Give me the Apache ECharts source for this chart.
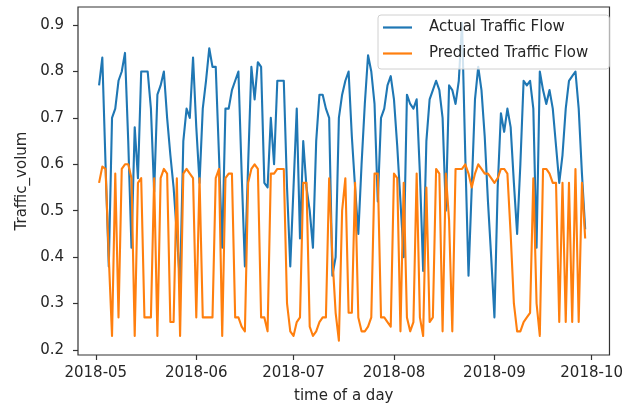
<!DOCTYPE html>
<html>
<head>
<meta charset="utf-8">
<script src="https://cdn.jsdelivr.net/npm/echarts@6/dist/echarts.min.js"></script>
<style>
  html, body { margin: 0; padding: 0; background: #ffffff; }
  #chart { width: 626px; height: 409px; }
</style>
</head>
<body>
<div id="chart"></div>
<script>
// Daily traffic volume (normalised), first day of the series
const firstDay = [2018, 4, 2]; // 2018-05-02 (month is zero-based)

const actualFlow = [
  0.77, 0.83, 0.60, 0.38, 0.70, 0.72, 0.78, 0.80, 0.84, 0.65,
  0.42, 0.68, 0.57, 0.80, 0.80, 0.80, 0.72, 0.54, 0.75, 0.77,
  0.80, 0.70, 0.62, 0.55, 0.45, 0.34, 0.65, 0.72, 0.70, 0.83,
  0.68, 0.56, 0.72, 0.78, 0.85, 0.81, 0.81, 0.62, 0.42, 0.72,
  0.72, 0.76, 0.78, 0.80, 0.58, 0.38, 0.60, 0.81, 0.74, 0.82,
  0.81, 0.56, 0.55, 0.70, 0.60, 0.78, 0.78, 0.78, 0.55, 0.38,
  0.55, 0.72, 0.44, 0.65, 0.55, 0.50, 0.42, 0.65, 0.75, 0.75,
  0.72, 0.70, 0.36, 0.40, 0.70, 0.75, 0.78, 0.80, 0.66, 0.55,
  0.45, 0.60, 0.73, 0.835, 0.80, 0.73, 0.52, 0.70, 0.72, 0.77,
  0.79, 0.74, 0.64, 0.52, 0.40, 0.75, 0.73, 0.72, 0.74, 0.58,
  0.37, 0.65, 0.74, 0.76, 0.78, 0.76, 0.70, 0.50, 0.77, 0.76,
  0.73, 0.78, 0.905, 0.62, 0.36, 0.55, 0.74, 0.81, 0.76, 0.66,
  0.52, 0.40, 0.27, 0.55, 0.71, 0.67, 0.72, 0.68, 0.56, 0.45,
  0.60, 0.78, 0.77, 0.78, 0.72, 0.42, 0.80, 0.76, 0.73, 0.76,
  0.72, 0.64, 0.56, 0.62, 0.72, 0.78, 0.79, 0.80, 0.72, 0.58, 0.46
];

const predictedFlow = [
  0.56, 0.595, 0.59, 0.40, 0.23, 0.58, 0.27, 0.59, 0.60, 0.60,
  0.57, 0.23, 0.56, 0.57, 0.27, 0.27, 0.27, 0.57, 0.23, 0.57,
  0.59, 0.58, 0.26, 0.26, 0.57, 0.23, 0.58, 0.59, 0.58, 0.57,
  0.27, 0.57, 0.27, 0.27, 0.27, 0.27, 0.57, 0.59, 0.23, 0.57,
  0.58, 0.58, 0.27, 0.27, 0.25, 0.24, 0.56, 0.59, 0.60, 0.59,
  0.27, 0.27, 0.24, 0.58, 0.58, 0.59, 0.59, 0.59, 0.30, 0.24,
  0.23, 0.26, 0.27, 0.56, 0.56, 0.25, 0.23, 0.24, 0.26, 0.27,
  0.27, 0.57, 0.40, 0.28, 0.22, 0.50, 0.57, 0.28, 0.28, 0.56,
  0.27, 0.24, 0.24, 0.25, 0.27, 0.58, 0.58, 0.27, 0.27, 0.26,
  0.25, 0.58, 0.57, 0.24, 0.56, 0.27, 0.24, 0.26, 0.58, 0.27,
  0.23, 0.55, 0.26, 0.27, 0.59, 0.58, 0.24, 0.58, 0.48, 0.24,
  0.59, 0.59, 0.59, 0.60, 0.58, 0.55, 0.58, 0.60, 0.59, 0.58,
  0.58, 0.57, 0.56, 0.57, 0.59, 0.59, 0.58, 0.45, 0.30, 0.24,
  0.24, 0.26, 0.27, 0.28, 0.57, 0.30, 0.23, 0.59, 0.59, 0.58,
  0.56, 0.56, 0.26, 0.56, 0.26, 0.56, 0.26, 0.59, 0.26, 0.56, 0.44
];

// Axis ticks
const monthTicks = [[2018, 4, 1], [2018, 5, 1], [2018, 6, 1], [2018, 7, 1], [2018, 8, 1], [2018, 9, 1]];
const yTicks = [0.2, 0.3, 0.4, 0.5, 0.6, 0.7, 0.8, 0.9];

// Axis extents (margin either side of the data)
const xStart = new Date(2018, 3, 25, 12).getTime();
const xEnd = new Date(2018, 9, 6, 12).getTime();
const yMin = 0.189;
const yMax = 0.939;

function dayTime(i) {
  return new Date(firstDay[0], firstDay[1], firstDay[2] + i).getTime();
}
const actualSeries = actualFlow.map((v, i) => [dayTime(i), v]);
const predictedSeries = predictedFlow.map((v, i) => [dayTime(i), v]);
const monthTickTimes = monthTicks.map(m => new Date(m[0], m[1], m[2]).getTime());

const FONT = 'DejaVu Sans';
const TEXT = '#262626';

const chart = echarts.init(document.getElementById('chart'), null, { renderer: 'canvas' });
chart.setOption({
  animation: false,
  backgroundColor: '#ffffff',
  textStyle: { fontFamily: FONT },
  grid: {
    left: 78, right: 11, top: 7, bottom: 53,
    show: true, borderColor: '#333333', borderWidth: 1.2, backgroundColor: 'transparent'
  },
  legend: {
    orient: 'vertical',
    left: 378, top: 15,
    padding: [5, 21, 8, 5],
    itemGap: 11,
    itemWidth: 29, itemHeight: 2.2,
    icon: 'rect',
    backgroundColor: 'rgba(255,255,255,0.8)',
    borderColor: '#d0d0d0', borderWidth: 1, borderRadius: 3,
    textStyle: { fontFamily: FONT, fontSize: 15, color: TEXT, padding: [0, 0, 0, 12] },
    data: ['Actual Traffic Flow', 'Predicted Traffic Flow']
  },
  xAxis: {
    type: 'value',
    min: xStart, max: xEnd,
    name: 'time of a day',
    nameLocation: 'middle',
    nameGap: 34,
    nameTextStyle: { fontFamily: FONT, fontSize: 15, color: TEXT },
    axisLine: { show: false },
    splitLine: { show: false },
    axisTick: { show: true, length: 5, lineStyle: { color: '#333333', width: 1.2 }, customValues: monthTickTimes },
    axisLabel: {
      customValues: monthTickTimes,
      fontFamily: FONT, fontSize: 15, color: TEXT, margin: 11,
      formatter: function (val) {
        const d = new Date(val);
        const mm = String(d.getMonth() + 1).padStart(2, '0');
        return d.getFullYear() + '-' + mm;
      }
    }
  },
  yAxis: {
    type: 'value',
    min: yMin, max: yMax,
    name: 'Traffic_volum',
    nameLocation: 'middle',
    nameGap: 48,
    nameTextStyle: { fontFamily: FONT, fontSize: 15, color: TEXT },
    axisLine: { show: false },
    splitLine: { show: false },
    axisTick: { show: true, length: 5, lineStyle: { color: '#333333', width: 1.2 }, customValues: yTicks },
    axisLabel: {
      customValues: yTicks,
      fontFamily: FONT, fontSize: 15, color: TEXT, margin: 14,
      formatter: function (v) { return v.toFixed(1); }
    }
  },
  series: [
    {
      name: 'Actual Traffic Flow',
      type: 'line',
      data: actualSeries,
      showSymbol: false,
      color: '#1f77b4',
      lineStyle: { color: '#1f77b4', width: 2.1, join: 'round' }
    },
    {
      name: 'Predicted Traffic Flow',
      type: 'line',
      data: predictedSeries,
      showSymbol: false,
      color: '#ff7f0e',
      lineStyle: { color: '#ff7f0e', width: 2.1, join: 'round' }
    }
  ]
});
</script>
</body>
</html>
